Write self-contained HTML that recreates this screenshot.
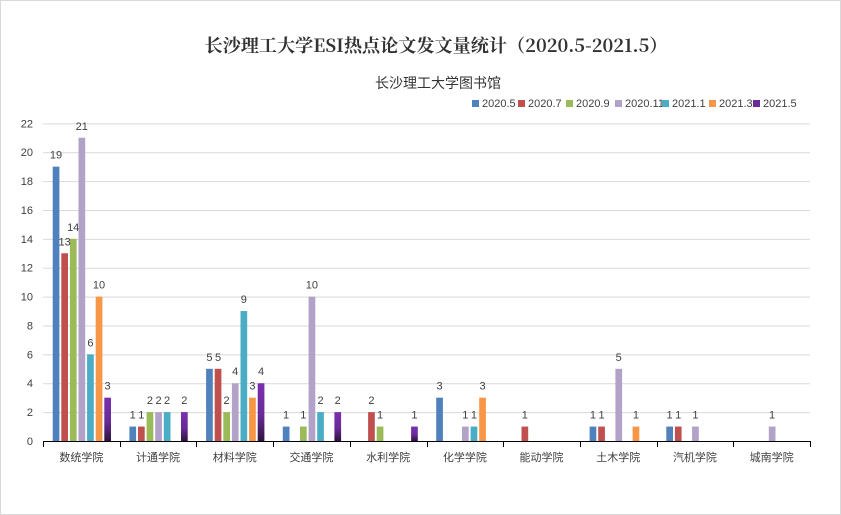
<!DOCTYPE html>
<html><head><meta charset="utf-8"><style>body{margin:0;background:#fff}svg{display:block}</style></head><body>
<svg width="841" height="515" xmlns="http://www.w3.org/2000/svg">
<defs><linearGradient id="pg" x1="0" y1="0" x2="0" y2="1"><stop offset="0" stop-color="#7a30b0"/><stop offset="0.55" stop-color="#6a2a98"/><stop offset="1" stop-color="#2e1440"/></linearGradient></defs>
<rect x="0.5" y="0.5" width="840" height="514" fill="#fff" stroke="#d9d9d9"/>
<text x="436" y="52" text-anchor="middle" font-family="'Noto Serif CJK SC','Liberation Serif',serif" font-weight="bold" font-size="18" fill="#333" textLength="463" lengthAdjust="spacingAndGlyphs">长沙理工大学ESI热点论文发文量统计（2020.5-2021.5）</text>
<text x="438" y="88" text-anchor="middle" font-family="'Liberation Sans','Noto Sans CJK SC',sans-serif" font-size="14" fill="#333">长沙理工大学图书馆</text>
<g id="grid" stroke="#d9d9d9" stroke-width="1"></g>
<g id="bars"></g>
<g id="lab" font-family="'Liberation Sans','Noto Sans CJK SC',sans-serif" font-size="11" fill="#404040"></g>
<g id="leg" font-family="'Liberation Sans',sans-serif" font-size="11" fill="#404040"></g>
<script>
var ns="http://www.w3.org/2000/svg";
function el(p,t,a,txt){var e=document.createElementNS(ns,t);for(var k in a)e.setAttribute(k,a[k]);if(txt!=null)e.textContent=txt;document.getElementById(p).appendChild(e);}
var y0=441,u=14.44,L=43,R=810,cw=76.7;
for(var v=0;v<=22;v+=2){var y=y0-v*u;if(v>0)el('grid','line',{x1:L,x2:R,y1:y+0.5,y2:y+0.5});el('lab','text',{x:33,y:y+4,'text-anchor':'end'},v);}
el('grid','line',{x1:L,x2:R,y1:441.5,y2:441.5,stroke:'#000'});
var cats=['数统学院','计通学院','材料学院','交通学院','水利学院','化学学院','能动学院','土木学院','汽机学院','城南学院'];
var d=[[19,13,14,21,6,10,3],[1,1,2,2,2,0,2],[5,5,2,4,9,3,4],[1,0,1,10,2,0,2],[0,2,1,0,0,0,1],[3,0,0,1,1,3,0],[0,1,0,0,0,0,0],[1,1,0,5,0,1,0],[1,1,0,1,0,0,0],[0,0,0,1,0,0,0]];
var col=['#4F81BD','#C0504D','#9BBB59','#B3A2C7','#4BACC6','#F79646','url(#pg)'];
for(var i=0;i<=10;i++){var x=Math.round(L+i*cw)+0.5;el('grid','line',{x1:x,x2:x,y1:441,y2:447,stroke:'#000'});}
for(var i=0;i<10;i++){var gx=L+i*cw;el('lab','text',{x:gx+cw/2,y:461,'text-anchor':'middle'},cats[i]);
for(var j=0;j<7;j++){var v=d[i][j];if(!v)continue;var bx=gx+9.7+j*8.6,h=v*u;el('bars','rect',{x:bx,y:y0-h,width:6.7,height:h,fill:col[j]});el('lab','text',{x:bx+3.3,y:y0-h-8,'text-anchor':'middle'},v);}}
var lx=[472,518,566,615,662,709,753],ln=['2020.5','2020.7','2020.9','2020.11','2021.1','2021.3','2021.5'];
for(var j=0;j<7;j++){el('leg','rect',{x:lx[j],y:100,width:7,height:7,fill:j==6?'#6a2a98':col[j]});el('leg','text',{x:lx[j]+10,y:107},ln[j]);}
</script>
</svg>
</body></html>
